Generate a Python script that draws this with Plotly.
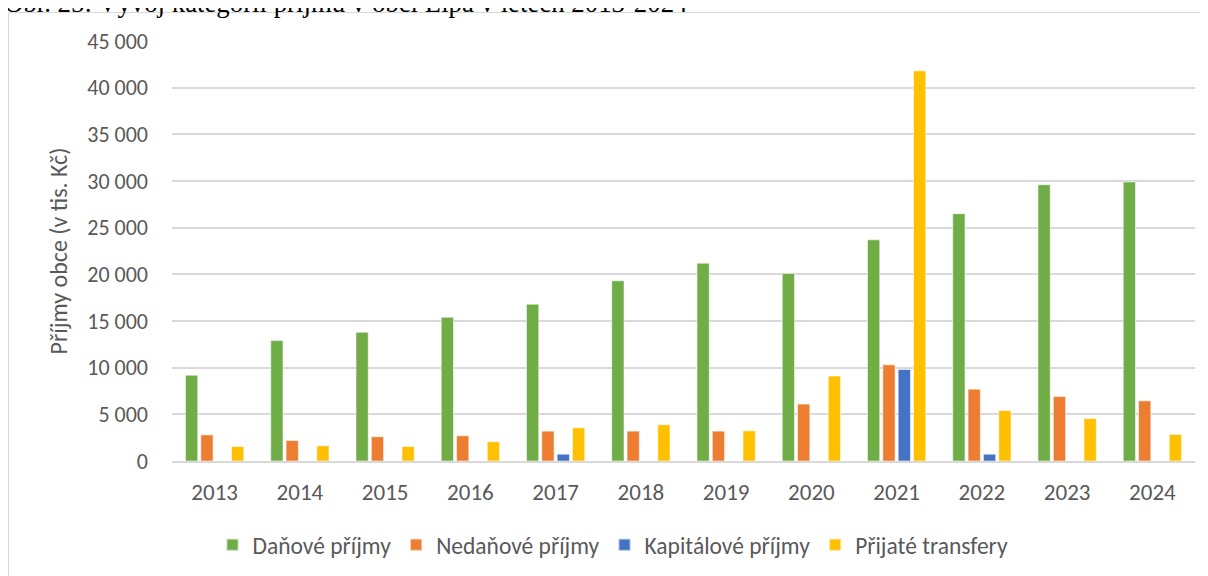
import plotly.graph_objects as go

years = ["2013", "2014", "2015", "2016", "2017", "2018", "2019", "2020", "2021", "2022", "2023", "2024"]
danove = [9200, 12900, 13800, 15400, 16800, 19300, 21200, 20100, 23700, 26500, 29600, 29900]
nedanove = [2800, 2200, 2600, 2700, 3200, 3200, 3200, 6100, 10300, 7700, 6900, 6450]
kapitalove = [0, 0, 0, 0, 730, 0, 0, 0, 9800, 730, 0, 0]
transfery = [1550, 1630, 1550, 2060, 3560, 3880, 3230, 9100, 41800, 5400, 4550, 2840]

series = [
    ("Daňové příjmy", danove, "#70AD47"),
    ("Nedaňové příjmy", nedanove, "#ED7D31"),
    ("Kapitálové příjmy", kapitalove, "#4472C4"),
    ("Přijaté transfery", transfery, "#FFC000"),
]

tickvals = [0, 5000, 10000, 15000, 20000, 25000, 30000, 35000, 40000, 45000]
ticktext = ["0", "5 000", "10 000", "15 000", "20 000", "25 000", "30 000", "35 000", "40 000", "45 000"]

FONT = "Calibri, Carlito, Lato, sans-serif"
GRAY = "#595959"

fig = go.Figure()
for name, vals, col in series:
    fig.add_trace(go.Bar(
        x=years, y=vals, name=name,
        marker=dict(color=col, line=dict(color="rgba(255,255,255,0.55)", width=1)),
    ))

OFF = 8  # default body margin of the html page
W, H = 1200, 568
# plot area in page pixels
PL, PR, PT, PB = 172, 1195, 41, 461
L = PL - OFF
T = PT - OFF
R = W - (PR - OFF)
B = H - (PB - OFF)
pw = W - L - R
ph = H - T - B

def px_x(p):
    return (p - PL) / pw

def px_y(p):
    return (PB - p) / ph

fig.update_layout(
    width=W, height=H,
    margin=dict(l=L, r=R, t=T, b=B, autoexpand=False),
    paper_bgcolor="white", plot_bgcolor="white",
    barmode="group", bargap=0.28, bargroupgap=0.2,
    font=dict(family=FONT, color=GRAY, size=20),
    showlegend=True,
    legend=dict(
        orientation="h", x=px_x(613), xanchor="center", y=px_y(545), yanchor="middle",
        font=dict(family=FONT, size=23.5, color=GRAY),
        itemsizing="constant", traceorder="normal",
    ),
    xaxis=dict(
        type="category", showgrid=False, showline=True, linecolor="#d9d9d9", linewidth=1.5,
        ticks="", tickfont=dict(family=FONT, size=23, color=GRAY), ticklabelstandoff=10,
    ),
    yaxis=dict(
        range=[0, 45000], tickvals=tickvals, ticktext=ticktext,
        showgrid=True, gridcolor="#d9d9d9", gridwidth=1.5, zeroline=False, showline=False,
        tickfont=dict(family=FONT, size=22, color=GRAY), ticklabelstandoff=23,
        title=dict(text="Příjmy obce (v tis. Kč)", font=dict(family=FONT, size=24, color=GRAY), standoff=12),
    ),
    shapes=[dict(
        type="rect", xref="paper", yref="paper",
        x0=px_x(8.5), x1=px_x(1240), y0=px_y(600), y1=px_y(12.5),
        line=dict(color="#d9d9d9", width=1), fillcolor="rgba(0,0,0,0)", layer="below",
    )],
    annotations=[dict(
        text="Obr. 25: Vývoj kategorií příjmů v obci Lípa v letech 2013-2024",
        xref="paper", yref="paper", x=px_x(2), xanchor="left", y=px_y(2.8), yanchor="middle",
        showarrow=False, font=dict(family="Times New Roman, Liberation Serif, serif", size=26.8, color="black"),
    )],
)

fig.write_html("out.html")
